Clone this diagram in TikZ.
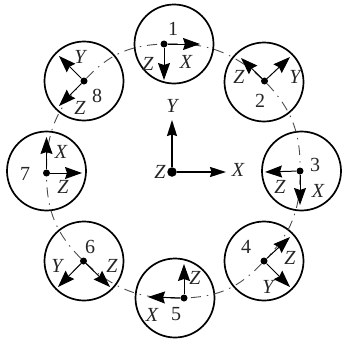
\documentclass[tikz,border=0pt]{standalone}
\usepackage{fontspec}
\setmainfont{Liberation Serif}
\usetikzlibrary{arrows.meta}
\tikzset{
  x=1pt,y=-1pt,
  disc/.style={circle,draw=black,line width=1.7pt,minimum size=79pt,inner sep=0pt},
  hub/.style={circle,fill=black,minimum size=7pt,inner sep=0pt},
  bighub/.style={circle,fill=black,minimum size=9.5pt,inner sep=0pt},
  axis/.style={line width=1pt,-{Stealth[length=17pt,width=12pt,inset=2pt]}},
  bigaxis/.style={line width=1.7pt,-{Stealth[length=16pt,width=10pt,inset=1.5pt]}},
  ring/.style={line width=0.9pt,black!70,dash pattern=on 10pt off 6pt on 1.5pt off 6pt},
  ax/.style={font=\fontsize{20}{20}\selectfont\itshape,inner sep=0pt,text=black!85},
  num/.style={font=\fontsize{20}{20}\selectfont,inner sep=0pt,text=black!85}
}
\begin{document}
\begin{tikzpicture}
\useasboundingbox (0,0) rectangle (343,340);
% discs
\node[disc] (c1) at (174,44) {};
\node[disc] (c2) at (264,82) {};
\node[disc] (c3) at (301.5,171) {};
\node[disc] (c4) at (264,261) {};
\node[disc] (c5) at (175,298) {};
\node[disc] (c6) at (84,261) {};
\node[disc] (c7) at (46.5,171) {};
\node[disc] (c8) at (84,81) {};
% hubs
\node[hub] (d1) at (164,44) {};
\node[hub] (d2) at (264.5,81) {};
\node[hub] (d3) at (300,171) {};
\node[hub] (d4) at (264,261) {};
\node[hub] (d5) at (184,298) {};
\node[hub] (d6) at (83.5,261) {};
\node[hub] (d7) at (46.5,173) {};
\node[hub] (d8) at (84,81) {};
\node[bighub] (o) at (172,172) {};
% dash-dot ring
\draw[ring] (d1) to[bend left=22] (d2);
\draw[ring] (d2) to[bend left=22] (d3);
\draw[ring] (d3) to[bend left=22] (d4);
\draw[ring] (d4) to[bend left=22] (d5);
\draw[ring] (d5) to[bend left=22] (d6);
\draw[ring] (d6) to[bend left=22] (d7);
\draw[ring] (d7) to[bend left=22] (d8);
\draw[ring] (d8) to[bend left=22] (d1);
% arrow ends
\coordinate (x1) at (200,44);   \coordinate (z1) at (164,80);
\coordinate (z2) at (241,58);   \coordinate (y2) at (290,57);
\coordinate (z3) at (265,172);  \coordinate (x3) at (300,205);
\coordinate (z4) at (290,237);  \coordinate (y4) at (290,287);
\coordinate (z5) at (184,264);  \coordinate (x5) at (148,297);
\coordinate (y6) at (58,287);   \coordinate (z6) at (110,287);
\coordinate (x7) at (46.5,137); \coordinate (z7) at (82,173);
\coordinate (y8) at (59,56);    \coordinate (z8) at (59,106);
\coordinate (yo) at (172,120);  \coordinate (xo) at (226,172);
\draw[axis] (d1) -- (x1); \draw[axis] (d1) -- (z1);
\draw[axis] (d2) -- (z2); \draw[axis] (d2) -- (y2);
\draw[axis] (d3) -- (z3); \draw[axis] (d3) -- (x3);
\draw[axis] (d4) -- (z4); \draw[axis] (d4) -- (y4);
\draw[axis] (d5) -- (z5); \draw[axis] (d5) -- (x5);
\draw[axis] (d6) -- (y6); \draw[axis] (d6) -- (z6);
\draw[axis] (d7) -- (x7); \draw[axis] (d7) -- (z7);
\draw[axis] (d8) -- (y8); \draw[axis] (d8) -- (z8);
\draw[bigaxis] (o) -- (yo); \draw[bigaxis] (o) -- (xo);
% numbers
\node[num] (n1) at (173,29) {1};
\node[num] (n2) at (260,101) {2};
\node[num] (n3) at (315,165) {3};
\node[num] (n4) at (246,247) {4};
\node[num] (n5) at (176,314) {5};
\node[num] (n6) at (90,247) {6};
\node[num] (n7) at (25,174) {7};
\node[num] (n8) at (97,96) {8};
% axis letters
\node[ax] (lz1) at (148,64) {Z};  \node[ax] (lx1) at (186,62) {X};
\node[ax] (lz2) at (239,77) {Z};  \node[ax] (ly2) at (295,77) {Y};
\node[ax] (lz3) at (280,187) {Z}; \node[ax] (lx3) at (318,191) {X};
\node[ax] (lz4) at (290,258) {Z}; \node[ax] (ly4) at (268,287) {Y};
\node[ax] (lz5) at (195,278) {Z}; \node[ax] (lx5) at (152,315) {X};
\node[ax] (ly6) at (57,266) {Y};  \node[ax] (lz6) at (112,266) {Z};
\node[ax] (lx7) at (61,152) {X};  \node[ax] (lz7) at (63,187) {Z};
\node[ax] (ly8) at (80,57) {Y};   \node[ax] (lz8) at (80,108) {Z};
\node[ax] (loy) at (172,106) {Y}; \node[ax] (lox) at (238,170) {X};
\node[ax] (loz) at (160,172) {Z};
\end{tikzpicture}
\end{document}
